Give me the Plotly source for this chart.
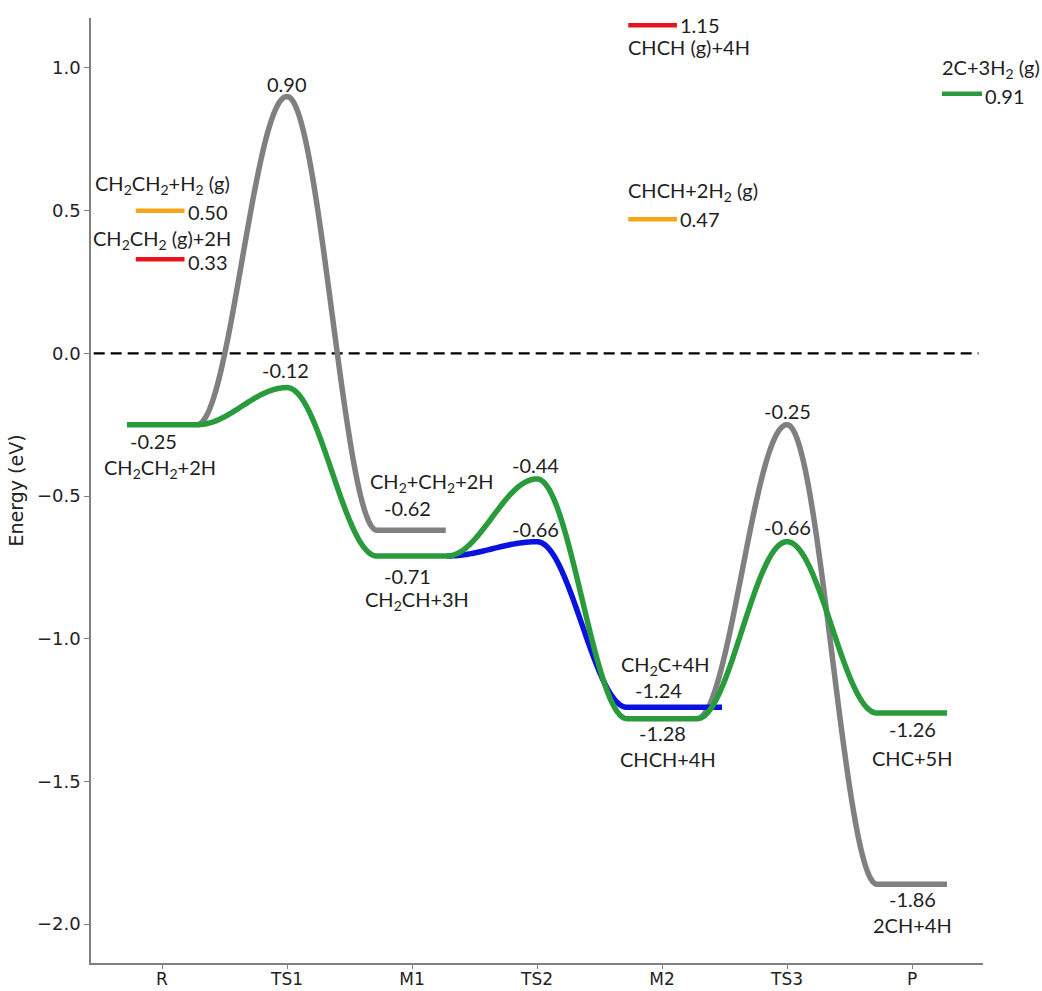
import numpy as np
import plotly.graph_objects as go

# ---- reaction coordinate -------------------------------------------------
states = ["R", "TS1", "M1", "TS2", "M2", "TS3", "P"]

# main surface pathway (green), energies in eV for R..P
green_E = [-0.25, -0.12, -0.71, -0.44, -1.28, -0.66, -1.26]
green_names = ["CH<sub>2</sub>CH<sub>2</sub>+2H", None, "CH<sub>2</sub>CH+3H", None,
               "CHCH+4H", None, "CHC+5H"]

# alternative branch M1 -> TS2 -> M2 (blue)
blue_idx = [2, 3, 4]
blue_E = [-0.71, -0.66, -1.24]

# C-C scission branches (gray)
gray_a_idx = [0, 1, 2]
gray_a_E = [-0.25, 0.90, -0.62]
gray_b_idx = [4, 5, 6]
gray_b_E = [-1.28, -0.25, -1.86]

# gas-phase reference levels
gas_names = ["CH<sub>2</sub>CH<sub>2</sub>+H<sub>2</sub> (g)", "CH<sub>2</sub>CH<sub>2</sub> (g)+2H",
             "CHCH (g)+4H", "CHCH+2H<sub>2</sub> (g)", "2C+3H<sub>2</sub> (g)"]
gas_E = [0.50, 0.33, 1.15, 0.47, 0.91]
gas_state = [0, 0, 4, 4, 6]

GRAY = "#808080"
GREEN = "#2a9b3c"
BLUE = "#0a12e0"
ORANGE = "#f9a51a"
RED = "#e8141c"
gas_colors = [ORANGE, RED, RED, ORANGE, GREEN]

TEXT_FONT = dict(family="Lato", size=20, color="#1e1e1e")
TICK_FONT = dict(family="DejaVu Sans", size=18, color="#222222")


def profile(idx, energies, head=True, half=0.28, tail=0.28, n=80):
    """Smooth energy profile: flat plateaus at minima, cosine easing between."""
    nodes = []
    for k, (i, e) in enumerate(zip(idx, energies)):
        if i % 2 == 0:  # intermediate -> plateau
            if k > 0 or head:
                nodes.append((i - half, e))
            right = tail if k == len(idx) - 1 else half
            nodes.append((i + right, e))
        else:           # transition state -> single point
            nodes.append((i, e))
    xs, ys = [nodes[0][0]], [nodes[0][1]]
    for (x0, y0), (x1, y1) in zip(nodes[:-1], nodes[1:]):
        t = np.linspace(0, 1, n)[1:]
        xs.extend(x0 + (x1 - x0) * t)
        ys.extend(y0 + (y1 - y0) * (1 - np.cos(np.pi * t)) / 2)
    return np.array(xs), np.array(ys)


def curve(x, y, color, width=5.5):
    return go.Scatter(x=x, y=y, mode="lines", hoverinfo="skip",
                      line=dict(color=color, width=width, simplify=False))


fig = go.Figure()

gx, gy = profile(gray_a_idx, gray_a_E, head=False, tail=0.27)
fig.add_trace(curve(gx, gy, GRAY))
gx, gy = profile(gray_b_idx, gray_b_E, head=False)
fig.add_trace(curve(gx, gy, GRAY))
bx, by = profile(blue_idx, blue_E, head=False, tail=0.48)
fig.add_trace(curve(bx, by, BLUE))
gx, gy = profile(list(range(len(states))), green_E)
fig.add_trace(curve(gx, gy, GREEN))

# gas-phase levels: short bars with name and value beside them
gas_span = [(-0.21, 0.18), (-0.21, 0.18), (-0.27, 0.12), (-0.27, 0.12), (0.24, 0.56)]
gas_name_shift = [26, 20, -22, 28, 25]
gas_value_shift = [-1, -3, 0, 0, -2]
annotations = []
for name, e, s, c, (a, b), ns, vs in zip(gas_names, gas_E, gas_state, gas_colors,
                                         gas_span, gas_name_shift, gas_value_shift):
    fig.add_trace(go.Scatter(x=[s + a, s + b], y=[e, e], mode="lines", hoverinfo="skip",
                             line=dict(color=c, width=4.5)))
    if s == 0:
        annotations.append(dict(x=s, y=e, text=name, xanchor="center", yshift=ns))
    else:
        annotations.append(dict(x=s + a, y=e, text=name, xanchor="left", xshift=-2, yshift=ns))
    annotations.append(dict(x=s + b, y=e, text=f"{e:.2f}", xanchor="left", xshift=1, yshift=vs))

# energy labels along the pathways:
# (state index, energy, name, value xshift, value yshift, name yshift, name xshift)
labels = [
    # green pathway
    (0, green_E[0], green_names[0], -9, -16, -44, -2),
    (1, green_E[1], None, -2, 18, 0, 0),
    (2, green_E[2], green_names[2], -5, -20, -44, 5),
    (3, green_E[3], None, -2, 14, 0, 0),
    (4, green_E[4], green_names[4], 0, -14, -40, 6),
    (5, green_E[5], None, 0, 15, 0, 0),
    (6, green_E[6], green_names[6], 0, -16, -45, 0),
    # blue branch
    (3, blue_E[1], None, -2, 13, 0, 0),
    (4, blue_E[2], "CH<sub>2</sub>C+4H", -4, 17, 42, 3),
    # gray branches
    (1, gray_a_E[1], None, 0, 12, 0, 0),
    (2, gray_a_E[2], "CH<sub>2</sub>+CH<sub>2</sub>+2H", -5, 22, 48, 20),
    (5, gray_b_E[1], None, 0, 14, 0, 0),
    (6, gray_b_E[2], "2CH+4H", 0, -15, -41, 0),
]
for i, e, name, vx, vy, ny, nx in labels:
    annotations.append(dict(x=i, y=e, text=f"{e:.2f}", xanchor="center", xshift=vx, yshift=vy))
    if name:
        annotations.append(dict(x=i, y=e, text=name, xanchor="center", xshift=nx, yshift=ny))

for a in annotations:
    a.update(xref="x", yref="y", showarrow=False, yanchor="middle", font=TEXT_FONT)

fig.update_layout(
    width=1042, height=991,
    margin=dict(l=91, r=59, t=18, b=28),
    paper_bgcolor="white", plot_bgcolor="white",
    showlegend=False,
    annotations=annotations,
    shapes=[dict(type="line", xref="paper", yref="y", x0=0.003, x1=0.995, y0=0, y1=0,
                 line=dict(color="black", width=2.2, dash="11px,6px"), layer="below")],
)
fig.update_xaxes(
    range=[-0.568, 6.568], tickmode="array", tickvals=list(range(len(states))),
    ticktext=states, showgrid=False, zeroline=False, showline=True, automargin=False,
    linecolor=GRAY, linewidth=1.5, ticks="outside", ticklen=4, tickcolor=GRAY,
    tickfont=dict(family="DejaVu Sans", size=17, color="#222222"),
    ticklabelstandoff=-4,
)
fig.update_yaxes(
    range=[-2.136, 1.175], tickmode="array",
    tickvals=[-2.0, -1.5, -1.0, -0.5, 0.0, 0.5, 1.0], tickformat=".1f",
    showgrid=False, zeroline=False, showline=True, automargin=False,
    linecolor=GRAY, linewidth=1.5, ticks="outside", ticklen=5, tickcolor=GRAY,
    tickfont=TICK_FONT,
    title=dict(text="Energy (eV)", font=dict(family="DejaVu Sans", size=19, color="#222222"),
               standoff=8),
)

fig.write_html("out.html")
